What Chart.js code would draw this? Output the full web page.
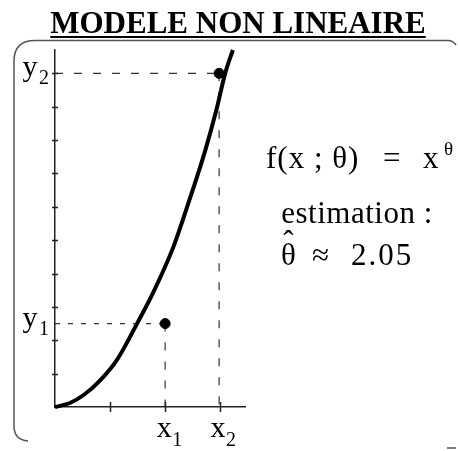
<!DOCTYPE html>
<html>
<head>
<meta charset="utf-8">
<script src="https://cdn.jsdelivr.net/npm/chart.js@4.4.1/dist/chart.umd.min.js"></script>
<style>
  html, body { margin: 0; padding: 0; background: #fff; }
  #wrap { position: relative; width: 458px; height: 451px; font-family: "Liberation Serif", "Times New Roman", serif; color: #000; }
  #chart { position: absolute; left: 0; top: 0; }
  .txt { position: absolute; white-space: pre; line-height: 1; }
  #title { left: 0; width: 476px; top: 7px; text-align: center; font-weight: bold; font-size: 31px; text-decoration: underline; text-decoration-thickness: 2px; text-underline-offset: 3px; }
  .big { font-size: 31px; }
  #formula { left: 266px; top: 142px; letter-spacing: 1px; }
  #equals { left: 383px; top: 142px; }
  #fx { left: 423px; top: 142px; }
  #fsup { left: 444px; top: 139px; font-size: 19px; }
  #estim { left: 207px; width: 300px; top: 197px; text-align: center; letter-spacing: 0.5px; }
  #theta { left: 281px; top: 239px; }
  #approx { left: 312px; top: 239px; }
  #num { left: 351px; top: 239px; letter-spacing: 2px; }
  .hat { position: relative; display: inline-block; }
  .circ { position: absolute; left: 0; right: 0; top: -0.42em; text-align: center; }
</style>
</head>
<body>
<div id="wrap">
  <canvas id="chart" width="458" height="451"></canvas>
  <div class="txt" id="title">MODELE NON LINEAIRE</div>
  <div class="txt big" id="formula">f(x ; θ)</div>
  <div class="txt big" id="equals">=</div>
  <div class="txt big" id="fx">x</div>
  <div class="txt" id="fsup">θ</div>
  <div class="txt big" id="estim">estimation :</div>
  <div class="txt big" id="theta"><span class="hat">θ<span class="circ">ˆ</span></span></div>
  <div class="txt big" id="approx">≈</div>
  <div class="txt big" id="num">2.05</div>
</div>
<script>
// fitted curve, read along its length
const curveX = [0, 0.27, 0.52, 0.82, 1.12, 1.33, 1.49, 1.76, 2.15, 2.45, 2.73, 2.93, 3.09, 3.23];
const curveY = [0, 0.12, 0.36, 0.80, 1.40, 2.00, 2.50, 3.35, 4.80, 6.25, 7.70, 8.90, 10.0, 10.7];

// the two observations (x1, y1) and (x2, y2)
const obsX = [2, 2.98];
const obsY = [2.5, 10];
const obsNames = ["1", "2"];

// axis ticks
const xTicks = [1, 2, 3];
const yTicks = [1, 2, 3, 4, 5, 6, 7, 8, 9, 10];
const xMax = 3.45;
const yMax = 10.7;

const guides = [];
obsX.forEach((x, i) => {
  guides.push({ data: [{ x: 0, y: obsY[i] }, { x: x, y: obsY[i] }], dash: i === 0 ? [5, 8] : [8, 11] });
  guides.push({ data: [{ x: x, y: obsY[i] }, { x: x, y: 0 }], dash: [8, 11] });
});

function subLabel(ctx, base, sub, x, y, subDx, subDy) {
  ctx.font = '30px "Liberation Serif", serif';
  ctx.textAlign = "center";
  ctx.textBaseline = "alphabetic";
  ctx.fillText(base, x, y);
  ctx.font = '20px "Liberation Serif", serif';
  ctx.textAlign = "left";
  ctx.fillText(sub, x + subDx, y + subDy);
}

const decorations = {
  id: "decorations",
  afterDraw(chart) {
    const ctx = chart.ctx;
    const xs = chart.scales.x;
    const ys = chart.scales.y;
    const x0 = xs.getPixelForValue(0);
    const y0 = ys.getPixelForValue(0);
    ctx.save();

    // rounded frame, open on the right and bottom
    ctx.strokeStyle = "#555";
    ctx.lineWidth = 1.5;
    ctx.beginPath();
    ctx.moveTo(456, 45);
    ctx.quadraticCurveTo(453, 40.5, 448, 40.5);
    ctx.lineTo(35, 40.5);
    ctx.quadraticCurveTo(14, 40.5, 14, 61);
    ctx.lineTo(14, 426);
    ctx.quadraticCurveTo(14, 440, 28, 441);
    ctx.stroke();
    ctx.beginPath();
    ctx.moveTo(447, 448);
    ctx.lineTo(456, 448);
    ctx.stroke();

    // tick marks crossing the axes
    ctx.strokeStyle = "#222";
    ctx.lineWidth = 1.5;
    ctx.beginPath();
    yTicks.forEach(v => {
      const py = Math.round(ys.getPixelForValue(v)) + 0.5;
      ctx.moveTo(x0 - 3, py);
      ctx.lineTo(x0 + 3, py);
    });
    xTicks.forEach(v => {
      const px = Math.round(xs.getPixelForValue(v)) + 0.5;
      ctx.moveTo(px, y0 - 5);
      ctx.lineTo(px, y0 + 5);
    });
    ctx.stroke();

    // x1, x2, y1, y2 labels
    ctx.fillStyle = "#000";
    obsX.forEach((v, i) => {
      subLabel(ctx, "x", obsNames[i], xs.getPixelForValue(v) - 1, y0 + 30, 8, 9);
    });
    obsY.forEach((v, i) => {
      subLabel(ctx, "y", obsNames[i], x0 - 25, ys.getPixelForValue(v) + 3, 9, 8);
    });
    ctx.restore();
  }
};

new Chart(document.getElementById("chart"), {
  type: "scatter",
  data: {
    datasets: [
      {
        data: obsX.map((x, i) => ({ x: x, y: obsY[i] })),
        pointRadius: 5,
        pointBackgroundColor: "#000",
        pointBorderColor: "#000",
        showLine: false
      },
      {
        data: curveX.map((x, i) => ({ x: x, y: curveY[i] })),
        showLine: true,
        borderColor: "#000",
        borderWidth: 4,
        pointRadius: 0,
        cubicInterpolationMode: "monotone",
        clip: false
      },
      ...guides.map(g => ({
        data: g.data,
        showLine: true,
        borderColor: "#333",
        borderWidth: 1.2,
        borderDash: g.dash,
        pointRadius: 0
      }))
    ]
  },
  options: {
    responsive: false,
    animation: false,
    events: [],
    layout: { padding: { left: 55, right: 213, top: 50, bottom: 44 } },
    plugins: {
      legend: { display: false },
      tooltip: { enabled: false }
    },
    scales: {
      x: {
        type: "linear",
        min: 0,
        max: xMax,
        grid: { display: false },
        border: { display: true, color: "#222", width: 1.5 },
        ticks: { display: false },
        afterFit: s => { s.height = 0; }
      },
      y: {
        type: "linear",
        min: 0,
        max: yMax,
        grid: { display: false },
        border: { display: true, color: "#222", width: 1.5 },
        ticks: { display: false },
        afterFit: s => { s.width = 0; }
      }
    }
  },
  plugins: [decorations]
});
</script>
</body>
</html>
